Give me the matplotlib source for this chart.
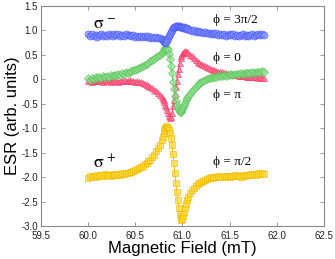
import matplotlib
matplotlib.use("Agg")
import matplotlib.pyplot as plt

field = [60.00, 60.02, 60.04, 60.06, 60.08, 60.10, 60.12, 60.14, 60.16, 60.18,
         60.20, 60.22, 60.24, 60.26, 60.28, 60.30, 60.32, 60.34, 60.36, 60.38,
         60.40, 60.42, 60.44, 60.46, 60.48, 60.50, 60.52, 60.54, 60.56, 60.58,
         60.60, 60.62, 60.64, 60.66, 60.68, 60.70, 60.72, 60.74, 60.76, 60.78,
         60.79, 60.80, 60.81, 60.82, 60.83, 60.84, 60.85, 60.86, 60.87, 60.88,
         60.89, 60.90, 60.91, 60.92, 60.93, 60.94, 60.95, 60.96, 60.97, 60.98,
         60.99, 61.00, 61.01, 61.02, 61.03, 61.04, 61.05, 61.06,
         61.08, 61.10, 61.12, 61.14, 61.16, 61.18, 61.20, 61.22, 61.24, 61.26,
         61.28, 61.30, 61.32, 61.34, 61.36, 61.38, 61.40, 61.42, 61.44, 61.46,
         61.48, 61.50, 61.52, 61.54, 61.56, 61.58, 61.60, 61.62, 61.64, 61.66,
         61.68, 61.70, 61.72, 61.74, 61.76, 61.78, 61.80, 61.82, 61.84, 61.86]

# phi = 3pi/2 (sigma-)
esr_3pi2 = [0.93, 0.89, 0.92, 0.88, 0.91, 0.87, 0.90, 0.92, 0.88, 0.91,
            0.89, 0.93, 0.90, 0.88, 0.92, 0.90, 0.93, 0.89, 0.91, 0.88,
            0.92, 0.90, 0.91, 0.88, 0.90, 0.87, 0.89, 0.86, 0.88, 0.87,
            0.89, 0.86, 0.88, 0.85, 0.87, 0.85, 0.86, 0.84, 0.85, 0.82,
            0.81, 0.79, 0.76, 0.75, 0.77, 0.80, 0.84, 0.88, 0.93, 0.97,
            1.01, 1.04, 1.06, 1.08, 1.09, 1.10, 1.09, 1.10, 1.08, 1.07,
            1.08, 1.06, 1.05, 1.06, 1.04, 1.03, 1.04, 1.02,
            1.01, 0.99, 1.00, 0.97, 0.98, 0.96, 0.97, 0.95, 0.96, 0.94,
            0.95, 0.93, 0.95, 0.92, 0.94, 0.91, 0.93, 0.90, 0.92, 0.89,
            0.91, 0.93, 0.90, 0.92, 0.89, 0.91, 0.88, 0.90, 0.92, 0.89,
            0.91, 0.88, 0.90, 0.92, 0.89, 0.91, 0.93, 0.90, 0.92, 0.91]

# phi = 0
esr_0 = [0.02, -0.01, 0.03, 0.01, 0.04, 0.02, 0.05, 0.03, 0.06, 0.04,
         0.07, 0.05, 0.08, 0.06, 0.09, 0.08, 0.10, 0.09, 0.12, 0.11,
         0.14, 0.13, 0.16, 0.17, 0.19, 0.20, 0.22, 0.23, 0.26, 0.27,
         0.30, 0.31, 0.34, 0.37, 0.39, 0.42, 0.45, 0.47, 0.50, 0.53,
         0.55, 0.58, 0.61, 0.63, 0.65, 0.64, 0.60, 0.52, 0.42, 0.28,
         0.12, -0.05, -0.20, -0.34, -0.44, -0.52, -0.58, -0.63, -0.66, -0.67,
         -0.65, -0.61, -0.57, -0.52, -0.48, -0.43, -0.39, -0.35,
         -0.29, -0.23, -0.19, -0.15, -0.11, -0.08, -0.05, -0.03, -0.01, 0.01,
         0.02, 0.03, 0.04, 0.05, 0.05, 0.06, 0.07, 0.06, 0.08, 0.07,
         0.09, 0.08, 0.10, 0.09, 0.10, 0.11, 0.10, 0.12, 0.11, 0.12,
         0.13, 0.12, 0.13, 0.14, 0.13, 0.15, 0.14, 0.16, 0.17, 0.15]

# phi = pi
esr_pi = [-0.04, -0.02, -0.05, -0.03, -0.04, -0.02, -0.04, -0.03, -0.05, -0.02,
          -0.04, -0.03, -0.05, -0.02, -0.04, -0.03, -0.05, -0.03, -0.04, -0.02,
          -0.04, -0.03, -0.02, -0.04, -0.03, -0.05, -0.04, -0.06, -0.06, -0.08,
          -0.09, -0.11, -0.13, -0.15, -0.18, -0.21, -0.24, -0.28, -0.32, -0.37,
          -0.40, -0.43, -0.47, -0.52, -0.57, -0.62, -0.68, -0.75, -0.80, -0.78,
          -0.68, -0.55, -0.42, -0.30, -0.16, -0.03, 0.10, 0.22, 0.34, 0.43,
          0.48, 0.52, 0.54, 0.56, 0.57, 0.56, 0.55, 0.53,
          0.50, 0.47, 0.43, 0.40, 0.36, 0.34, 0.31, 0.29, 0.27, 0.25,
          0.23, 0.22, 0.20, 0.19, 0.18, 0.16, 0.15, 0.14, 0.13, 0.12,
          0.11, 0.10, 0.10, 0.09, 0.08, 0.08, 0.07, 0.07, 0.06, 0.06,
          0.05, 0.05, 0.05, 0.04, 0.04, 0.04, 0.03, 0.04, 0.03, 0.03]

# phi = pi/2 (sigma+)
esr_pi2 = [-2.01, -1.98, -2.00, -1.97, -1.99, -1.96, -1.98, -1.95, -1.97, -1.94,
           -1.96, -1.95, -1.97, -1.94, -1.96, -1.95, -1.93, -1.95, -1.92, -1.94,
           -1.91, -1.92, -1.89, -1.90, -1.87, -1.86, -1.83, -1.82, -1.79, -1.77,
           -1.74, -1.72, -1.67, -1.64, -1.58, -1.54, -1.47, -1.41, -1.34, -1.25,
           -1.18, -1.10, -1.03, -0.99, -0.96, -0.98, -1.00, -1.04, -1.10, -1.20,
           -1.35, -1.52, -1.72, -1.92, -2.12, -2.30, -2.47, -2.62, -2.75, -2.84,
           -2.88, -2.86, -2.80, -2.72, -2.64, -2.55, -2.47, -2.40,
           -2.32, -2.26, -2.22, -2.17, -2.14, -2.11, -2.09, -2.07, -2.05, -2.03,
           -2.02, -2.00, -2.01, -1.99, -2.00, -1.98, -2.00, -1.99, -1.97, -1.99,
           -1.98, -1.99, -1.97, -1.98, -1.96, -1.98, -1.97, -1.99, -1.96, -1.97,
           -1.95, -1.96, -1.94, -1.95, -1.93, -1.95, -1.92, -1.94, -1.92, -1.93]

xticks = [59.5, 60.0, 60.5, 61.0, 61.5, 62.0, 62.5]
xticklabels = ["59.5", "60.0", "60.5", "61.0", "61.5", "62.0", "62.5"]
yticks = [1.5, 1.0, 0.5, 0.0, -0.5, -1.0, -1.5, -2.0, -2.5, -3.0]
yticklabels = ["1.5", "1.0", "0.5", "0", "-0.5", "-1.0", "-1.5", "-2.0", "-2.5", "-3.0"]

plt.rcParams['mathtext.fontset'] = 'stix'
plt.rcParams['font.family'] = ['Liberation Sans', 'DejaVu Sans']

fig = plt.figure(figsize=(3.35, 2.59), dpi=100)
ax = fig.add_axes([0.122, 0.127, 0.845, 0.850])

def series(y, marker, face, edge, line, ms):
    ax.plot(field, y, '-', color=line, lw=0.6, zorder=2)
    ax.plot(field, y, linestyle='none', marker=marker, ms=ms,
            mfc=face, mec=edge, mew=0.6, alpha=0.7, zorder=3)

series(esr_pi, '^', '#ff7090', '#ff3366', '#ff3366', 5)
series(esr_0, 'D', '#90e090', '#50c050', '#40b040', 4.2)
series(esr_3pi2, 'o', '#8090ff', '#4050ff', '#2030ff', 5)
series(esr_pi2, 's', '#ffd830', '#f0b800', '#f0b000', 4.6)

ax.set_xlim(59.5, 62.5)
ax.set_ylim(-3.0, 1.5)
ax.set_xticks(xticks)
ax.set_xticklabels(xticklabels)
ax.set_yticks(yticks)
ax.set_yticklabels(yticklabels)
ax.tick_params(direction='in', length=3, width=0.6, color='#888888',
               labelsize=7, labelcolor='#222222', top=True, right=True, pad=2)
ax.tick_params(axis='x', pad=3.5)
for s in ax.spines.values():
    s.set_color('#888888')
    s.set_linewidth(0.8)

ax.set_xlabel('Magnetic Field (mT)', fontsize=12, labelpad=0)
ax.set_ylabel('ESR (arb. units)', fontsize=12, labelpad=1)

serif = ['Liberation Serif', 'DejaVu Serif']
ax.text(60.05, 1.12, r'$\mathrm{\sigma}^{\,-}$', fontsize=13, va='center', ha='left')
ax.text(60.05, -1.71, r'$\mathrm{\sigma}^{\,+}$', fontsize=13, va='center', ha='left')
ax.text(61.32, 1.21, '\u03d5 = 3\u03c0/2', fontsize=9.5, family=serif, va='center', ha='left')
ax.text(61.32, 0.44, '\u03d5 = 0', fontsize=9.5, family=serif, va='center', ha='left')
ax.text(61.32, -0.32, '\u03d5 = \u03c0', fontsize=9.5, family=serif, va='center', ha='left')
ax.text(61.32, -1.69, '\u03d5 = \u03c0/2', fontsize=9.5, family=serif, va='center', ha='left')

fig.savefig('out.png', dpi=100)
